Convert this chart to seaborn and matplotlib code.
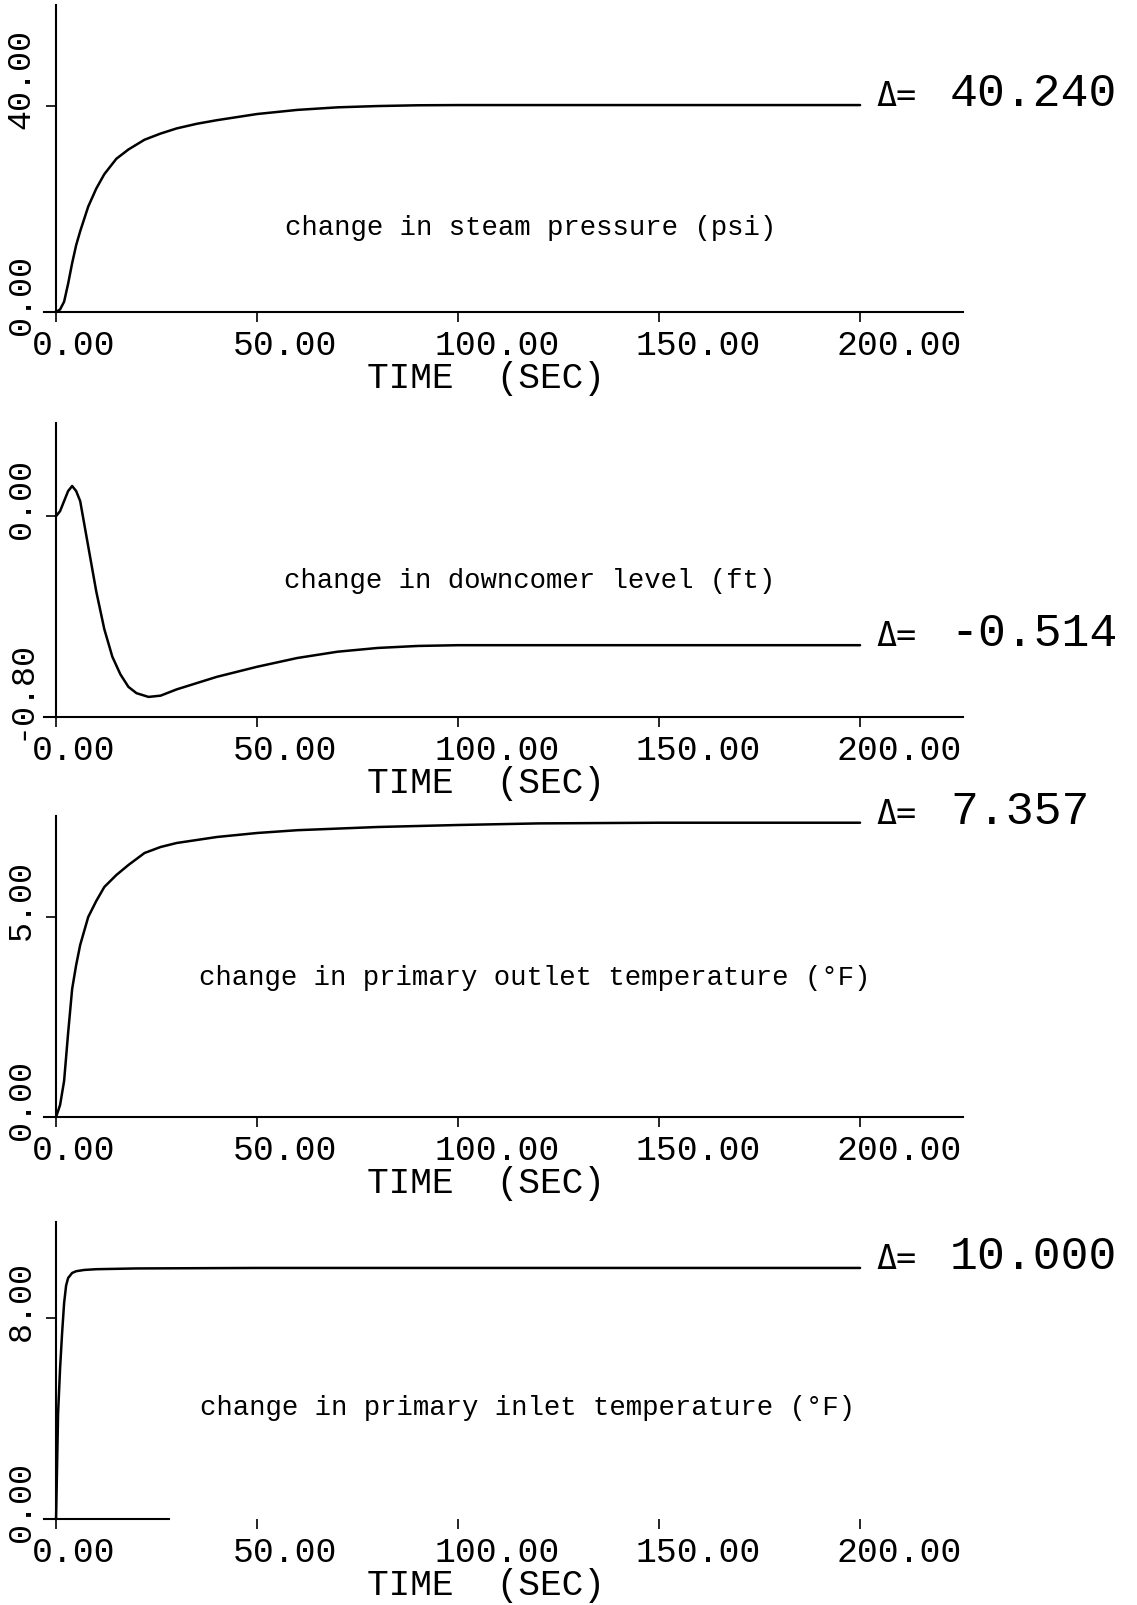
import numpy as np
import pandas as pd
import matplotlib
matplotlib.use("Agg")
import matplotlib.pyplot as plt
from matplotlib.transforms import ScaledTranslation
import seaborn as sns

# ---------------- data ----------------
time_ticks = [0, 50, 100, 150, 200]
x_label = "TIME  (SEC)"

t_pressure = [0, 1, 2, 3, 4, 5, 6, 8, 10, 12, 15, 18, 22, 26, 30, 35, 40, 50, 60, 70, 80, 90, 100, 120, 150, 200]
dp_pressure = [0, 0.5, 2.0, 5.5, 9.5, 13.0, 15.7, 20.5, 24.0, 26.8, 29.8, 31.6, 33.5, 34.7, 35.7, 36.6, 37.3,
               38.5, 39.3, 39.8, 40.05, 40.2, 40.24, 40.24, 40.24, 40.24]

t_level = [0, 1, 2, 3, 4, 5, 6, 7, 8, 10, 12, 14, 16, 18, 20, 23, 26, 30, 35, 40, 50, 60, 70, 80, 90, 100, 150, 200]
dp_level = [0, 0.02, 0.06, 0.10, 0.12, 0.10, 0.06, -0.03, -0.12, -0.30, -0.45, -0.56, -0.63, -0.68, -0.705,
            -0.72, -0.715, -0.69, -0.665, -0.64, -0.60, -0.565, -0.54, -0.525, -0.517, -0.514, -0.514, -0.514]

t_outlet = [0, 1, 2, 3, 4, 5, 6, 8, 10, 12, 15, 18, 22, 26, 30, 40, 50, 60, 80, 100, 120, 150, 200]
dp_outlet = [0, 0.3, 0.9, 2.1, 3.2, 3.8, 4.3, 5.0, 5.4, 5.75, 6.05, 6.3, 6.6, 6.75, 6.85, 7.0, 7.1, 7.17,
             7.25, 7.3, 7.34, 7.357, 7.357]

t_inlet = [0, 0.5, 1, 1.5, 2, 2.5, 3, 4, 5, 7, 10, 20, 50, 100, 150, 200]
dp_inlet = [0, 4.2, 6.0, 7.4, 8.6, 9.3, 9.6, 9.8, 9.87, 9.92, 9.95, 9.98, 10.0, 10.0, 10.0, 10.0]

titles = ["change in steam pressure (psi)",
          "change in downcomer level (ft)",
          "change in primary outlet temperature (°F)",
          "change in primary inlet temperature (°F)"]
delta_values = [40.240, -0.514, 7.357, 10.000]
delta_labels = ["40.240", "-0.514", "7.357", "10.000"]
y_ticks = [[0, 40], [-0.8, 0.0], [0, 5], [0, 8]]
y_limits = [(0, 59.7), (-0.8, 0.371), (0, 7.525), (0, 11.83)]

series = [(t_pressure, dp_pressure), (t_level, dp_level), (t_outlet, dp_outlet), (t_inlet, dp_inlet)]

# ---------------- layout ----------------
sns.set_style("white")
plt.rcParams['font.family'] = ['Liberation Mono', 'DejaVu Sans Mono', 'DejaVu Sans']

W, H, DPI = 1137, 1606, 100
fig = plt.figure(figsize=(W / DPI, H / DPI), dpi=DPI)
fig.patch.set_facecolor("white")

panel_px = [(6, 313), (424, 718), (817, 1118), (1223, 1520)]   # (top, bottom) pixel rows
title_px = [(531, 228), (530, 581), (535, 978), (527, 1408)]
LEFT_PX, RIGHT_PX = 44, 963
XMIN = -3
PX_PER_UNIT = 4.02
XMAX = XMIN + (RIGHT_PX - LEFT_PX) / PX_PER_UNIT
TEND_PX = LEFT_PX + (200 - XMIN) * PX_PER_UNIT


def off(dx, dy):
    return ScaledTranslation(dx / DPI, dy / DPI, fig.dpi_scale_trans)


for i, ((t, v), (top, bottom)) in enumerate(zip(series, panel_px)):
    ax = fig.add_axes([LEFT_PX / W, 1 - bottom / H, (RIGHT_PX - LEFT_PX) / W, (bottom - top) / H])
    ax.patch.set_alpha(0)
    df = pd.DataFrame({"t": t, "v": v})
    sns.lineplot(data=df, x="t", y="v", ax=ax, color="black", linewidth=1.8)
    ylo, yhi = y_limits[i]
    ax.set_xlim(XMIN, XMAX)
    ax.set_ylim(ylo, yhi)
    ax.set_xlabel("")
    ax.set_ylabel("")
    for s in ["top", "right"]:
        ax.spines[s].set_visible(False)
    ax.spines["left"].set_position(("data", 0))
    for s in ["left", "bottom"]:
        ax.spines[s].set_linewidth(1.5)
        ax.spines[s].set_color("black")
    if i == 3:
        ax.spines["bottom"].set_bounds(XMIN, 28)
    ax.set_xticks(time_ticks)
    ax.set_yticks(y_ticks[i])
    ax.tick_params(axis="both", direction="out", length=7, width=1.2, color="black",
                   bottom=True, left=True, labelbottom=False, labelleft=False)

    # x tick labels (plotter style, left aligned near the tick)
    for tk in time_ticks:
        ax.text(tk, ylo, f"{tk:.2f}", transform=ax.transData + off(-24, -42),
                ha="left", va="baseline", fontsize=25, color="black")
    # y tick labels (rotated)
    for yt in y_ticks[i]:
        ax.text(0, yt, f"{yt:.2f}", transform=ax.transData + off(-35, -22),
                ha="center", va="bottom", rotation=90, fontsize=24, color="black")
    # axis title
    ax.text(XMIN, ylo, x_label, transform=ax.transData + off(367 - LEFT_PX, -75),
            ha="left", va="baseline", fontsize=26, color="black")
    # delta annotation
    ax.text(200, delta_values[i], "Δ=", transform=ax.transData + off(16, 0),
            ha="left", va="baseline", fontsize=24, color="black",
            family=["DejaVu Sans Mono", "DejaVu Sans"])
    ax.text(200, delta_values[i], delta_labels[i], transform=ax.transData + off(950 - TEND_PX, 0),
            ha="left", va="baseline", fontsize=33.5, color="black")

    tx, ty = title_px[i]
    fig.text(tx / W, 1 - ty / H, titles[i], ha="center", va="center", fontsize=19.7, color="black")

fig.savefig("out.png", dpi=DPI, facecolor="white")
